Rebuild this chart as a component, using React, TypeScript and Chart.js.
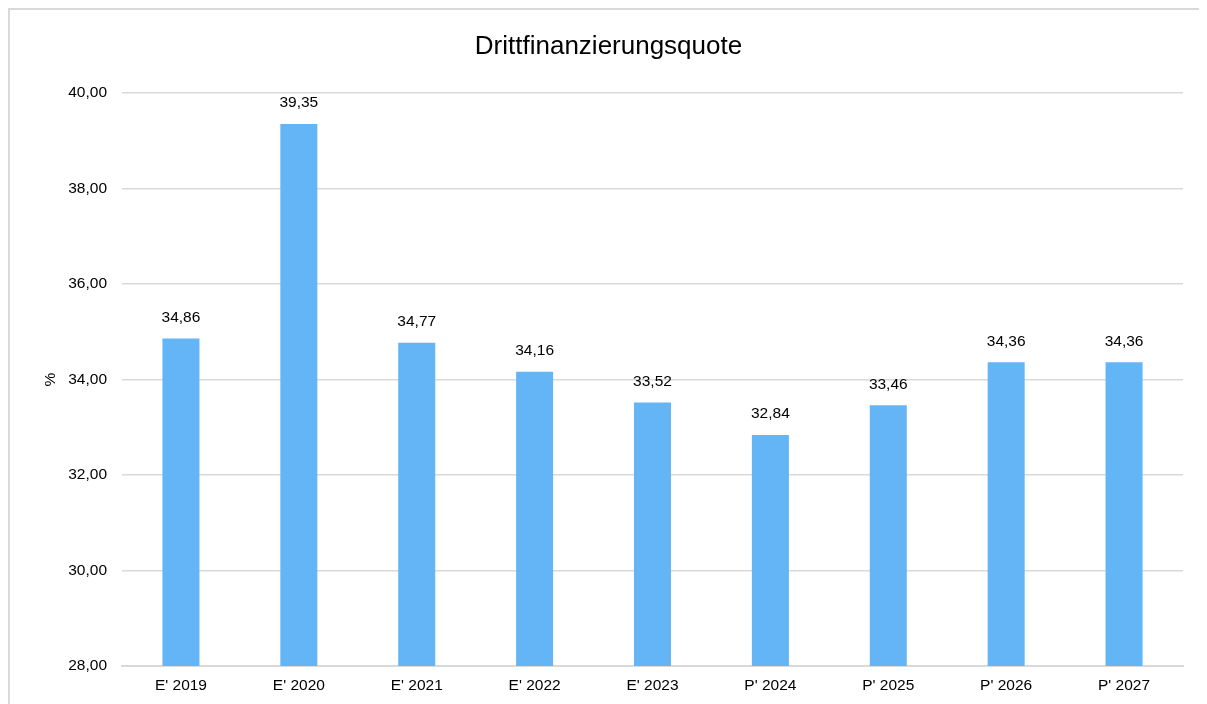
import React, { useEffect, useRef } from "react";
import { Chart, registerables } from "chart.js";

Chart.register(...registerables);

const categories = ["E' 2019", "E' 2020", "E' 2021", "E' 2022", "E' 2023", "P' 2024", "P' 2025", "P' 2026", "P' 2027"];
const values = [34.86, 39.35, 34.77, 34.16, 33.52, 32.84, 33.46, 34.36, 34.36];
const yMin = 28;
const yMax = 40;
const yStep = 2;
const chartTitle = "Drittfinanzierungsquote";
const yTitle = "%";

const FONT = "'Liberation Sans', Arial, sans-serif";
const fmt = (v: number) => v.toFixed(2).replace(".", ",");

const dataLabels = {
  id: "dataLabels",
  afterDatasetsDraw(chart: any) {
    const ctx = chart.ctx;
    const meta = chart.getDatasetMeta(0);
    ctx.save();
    ctx.font = `15.5px ${FONT}`;
    ctx.fillStyle = "#000";
    ctx.textAlign = "center";
    ctx.textBaseline = "middle";
    meta.data.forEach((bar: any, i: number) => {
      ctx.fillText(fmt(values[i]), bar.x, bar.y - 21);
    });
    ctx.restore();
  },
};

const centeredTitle = {
  id: "centeredTitle",
  afterDraw(chart: any) {
    const ctx = chart.ctx;
    ctx.save();
    ctx.font = `26px ${FONT}`;
    ctx.fillStyle = "#000";
    ctx.textAlign = "center";
    ctx.textBaseline = "alphabetic";
    ctx.fillText(chartTitle, chart.width / 2, 43.5);
    ctx.restore();
  },
};

export default function App() {
  const ref = useRef<HTMLCanvasElement>(null);
  useEffect(() => {
    document.documentElement.style.overflow = "hidden";
    document.body.style.overflow = "hidden";
    const chart = new Chart(ref.current!, {
      type: "bar",
      data: {
        labels: categories,
        datasets: [
          {
            data: values,
            backgroundColor: "#64B5F6",
            borderWidth: 0,
            barPercentage: 0.314,
            categoryPercentage: 1,
          },
        ],
      },
      options: {
        responsive: false,
        animation: false,
        layout: { padding: { left: 0, right: 24, top: 83, bottom: 0 } },
        plugins: {
          legend: { display: false },
          tooltip: { enabled: false },
          title: { display: false },
        },
        scales: {
          x: {
            grid: { display: false, drawTicks: false },
            border: { display: true, color: "#d9d9d9", width: 2 },
            ticks: { color: "#000", font: { family: FONT, size: 15.5 }, padding: 10, maxRotation: 0 },
            afterFit(scale: any) {
              scale.height = 38;
            },
          },
          y: {
            min: yMin,
            max: yMax,
            grid: { color: "#d9d9d9", lineWidth: 1.6, drawTicks: false },
            border: { display: false },
            ticks: {
              stepSize: yStep,
              color: "#000",
              font: { family: FONT, size: 15.5 },
              padding: 15,
              callback: (v: any) => fmt(Number(v)),
            },
            title: {
              display: true,
              text: yTitle,
              color: "#000",
              font: { family: FONT, size: 15.5 },
              padding: { top: 31.5, bottom: 0 },
            },
            afterFit(scale: any) {
              scale.width = 112;
            },
          },
        },
      },
      plugins: [dataLabels, centeredTitle],
    });
    return () => chart.destroy();
  }, []);

  return (
    <div
      style={{
        width: 1215,
        height: 694,
        borderTop: "2px solid #d9d9d9",
        borderLeft: "2px solid #d9d9d9",
        background: "#fff",
      }}
    >
      <canvas ref={ref} width={1197} height={694} style={{ display: "block", width: 1197, height: 694 }} />
    </div>
  );
}
